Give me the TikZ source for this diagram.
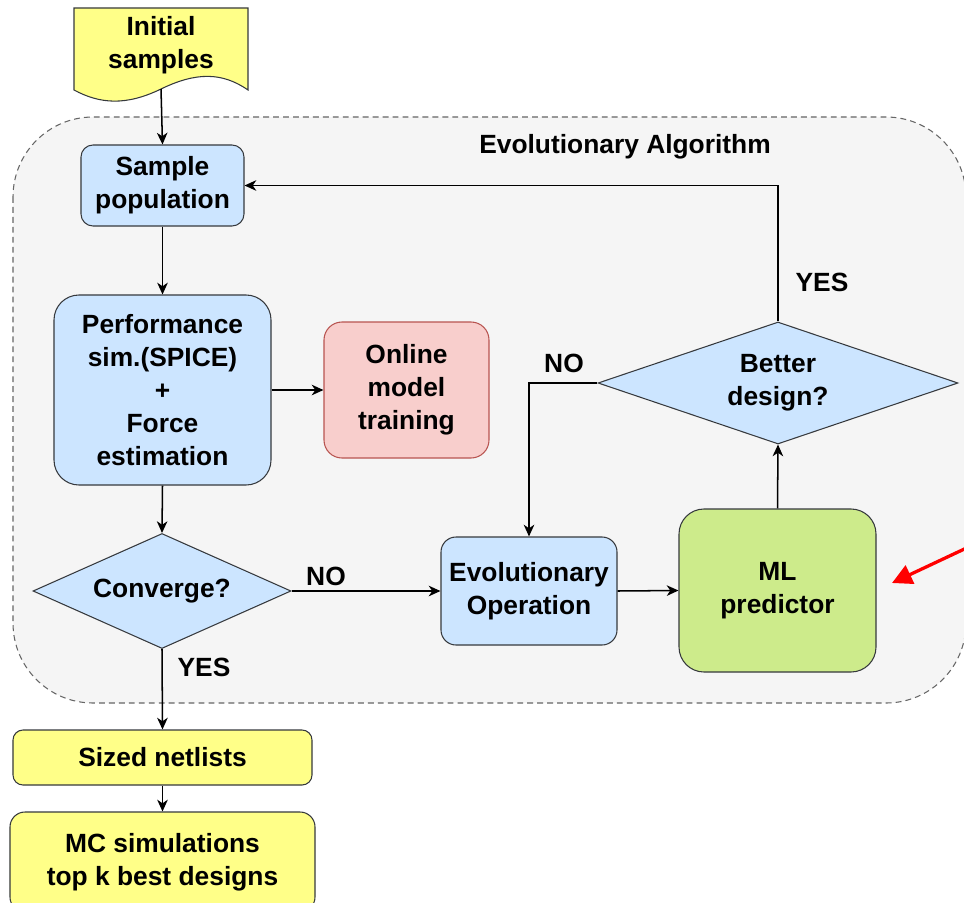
\documentclass[tikz,border=0pt]{standalone}
\usepackage{fontspec}
\setmainfont{Liberation Sans}
\usetikzlibrary{shapes.geometric,arrows.meta}
\definecolor{bgfill}{HTML}{F5F5F5}
\definecolor{bgline}{HTML}{666666}
\definecolor{edge}{HTML}{36393D}
\definecolor{bluefill}{HTML}{CCE5FF}
\definecolor{yelfill}{HTML}{FFFF88}
\definecolor{grnfill}{HTML}{CDEB8B}
\definecolor{redfill}{HTML}{F8CECC}
\definecolor{redline}{HTML}{B85450}
\tikzset{
  txt/.style={font=\fontsize{22.5}{28}\selectfont\bfseries, align=center, text=black},
  bluebox/.style={txt, draw=edge, fill=bluefill, line width=0.9pt, inner sep=0pt},
  yelbox/.style={txt, draw=edge, fill=yelfill, line width=0.9pt, inner sep=0pt},
  decision/.style={txt, diamond, draw=edge, fill=bluefill, line width=0.9pt, inner sep=0pt},
  conn/.style={line width=1.3pt, draw=black, -{Stealth[length=10pt,width=9pt,inset=3pt]}},
  lbl/.style={txt}
}
\begin{document}
\begin{tikzpicture}[x=0.03cm,y=-0.03cm]
\useasboundingbox (0,0) rectangle (964,902);
\clip (0,0) rectangle (964,902);

% background group
\path[draw=bgline, fill=bgfill, line width=0.9pt, dash pattern=on 5pt off 3.5pt, rounded corners=2.4cm]
  (13,117) rectangle (966,703);
\node[lbl] (ealabel) at (625,147) {Evolutionary Algorithm};

% initial samples (document shape)
\draw[draw=edge, fill=yelfill, line width=0.9pt]
  (74,8) -- (248,8) -- (248,90) .. controls (222,72) and (196,72) .. (161,89)
  .. controls (126,106) and (100,104) .. (74,90) -- cycle;
\node[txt] (init) at (161,45) {Initial\\samples};
\coordinate (initb) at (161,89);

% nodes
\node[bluebox, rounded corners=0.36cm, minimum width=4.89cm, minimum height=2.43cm] (samp) at (162.5,185.5) {Sample\\population};
\node[bluebox, rounded corners=0.75cm, minimum width=6.51cm, minimum height=5.7cm] (perf) at (162.5,390) {Performance\\sim.(SPICE)\\+\\Force\\estimation};
\node[txt, draw=redline, fill=redfill, line width=0.9pt, inner sep=0pt, rounded corners=0.54cm, minimum width=4.95cm, minimum height=4.08cm] (online) at (406.5,390) {Online\\model\\training};
\node[decision, aspect=2.24, minimum width=7.74cm, minimum height=3.45cm] (conv) at (162,591) {Converge?};
\node[bluebox, rounded corners=0.45cm, minimum width=5.28cm, minimum height=3.24cm] (evo) at (529,591) {Evolutionary\\Operation};
\node[txt, draw=edge, fill=grnfill, line width=0.9pt, inner sep=0pt, rounded corners=0.75cm, minimum width=5.91cm, minimum height=4.89cm] (ml) at (777.5,590.5) {ML\\predictor};
\node[decision, aspect=2.95, minimum width=10.8cm, minimum height=3.66cm] (better) at (778,383) {Better\\design?};
\node[yelbox, rounded corners=0.3cm, minimum width=8.97cm, minimum height=1.65cm] (sized) at (162.5,757.5) {Sized netlists};
\node[yelbox, rounded corners=0.45cm, minimum width=9.15cm, minimum height=3.0cm] (mc) at (162.5,862) {MC simulations\\top k best designs};

% connectors
\draw[conn] (initb) -- (samp.north);
\draw[conn] (samp.south) -- (perf.north);
\draw[conn] (perf.east) -- (online.west);
\draw[conn] (perf.south) -- (conv.north);
\draw[conn] (conv.south) -- (sized.north);
\draw[conn] (sized.south) -- (mc.north);
\draw[conn] (conv.east) -- (evo.west);
\draw[conn] (evo.east) -- (ml.west);
\draw[conn] (ml.north) -- (better.south);
\draw[conn] (better.north) |- (samp.east);
\draw[conn] (better.west) -| (evo.north);

% labels
\node[lbl] (lno1) at (326,576) {NO};
\node[lbl] (lyes1) at (204,667) {YES};
\node[lbl] (lno2) at (564,363) {NO};
\node[lbl] (lyes2) at (822,282) {YES};

% red pointer arrow
\coordinate (rstart) at (975,544);
\coordinate (rend) at (892,583);
\draw[red, line width=2.8pt, -{Triangle[length=17pt,width=17pt]}] (rstart) -- (rend);
\end{tikzpicture}
\end{document}
